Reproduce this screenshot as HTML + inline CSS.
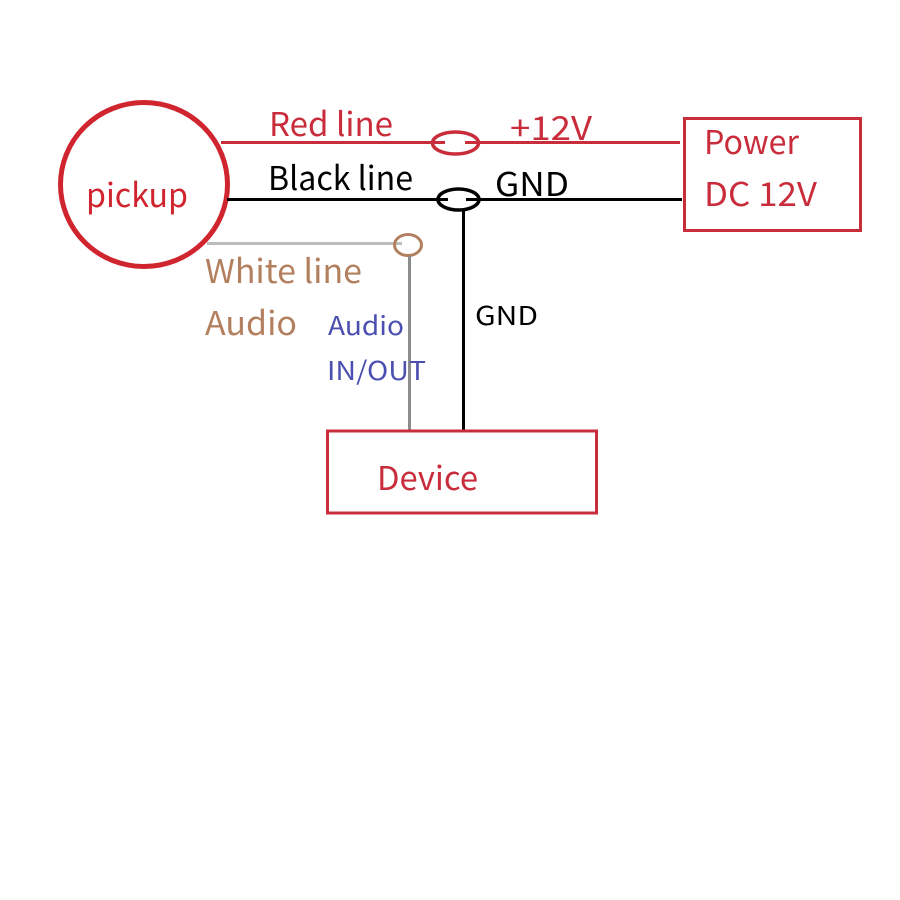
<!DOCTYPE html>
<html>
<head>
<meta charset="utf-8">
<style>
html,body{margin:0;padding:0;background:#fff;width:900px;height:900px;overflow:hidden}
svg{display:block}
text{font-family:"Noto Sans CJK SC","DejaVu Sans","Liberation Sans",sans-serif}
</style>
</head>
<body>
<svg width="900" height="900" viewBox="0 0 900 900" xmlns="http://www.w3.org/2000/svg">
<rect width="900" height="900" fill="#fff"/>
<!-- pickup circle -->
<ellipse cx="144" cy="184.500" rx="83.500" ry="82" fill="none" stroke="#d0252f" stroke-width="5"/>
<!-- red line with crossover -->
<line x1="221" y1="142.500" x2="445" y2="142.500" stroke="#c92d3c" stroke-width="3"/>
<line x1="465" y1="142.500" x2="680" y2="142.500" stroke="#c92d3c" stroke-width="3"/>
<ellipse cx="455.500" cy="143" rx="23" ry="11" fill="none" stroke="#c92d3c" stroke-width="3.500"/>
<!-- black line with crossover -->
<line x1="227" y1="199.500" x2="448" y2="199.500" stroke="#000" stroke-width="3"/>
<line x1="466" y1="199.500" x2="682" y2="199.500" stroke="#000" stroke-width="3"/>
<ellipse cx="458.500" cy="199.500" rx="20.500" ry="10.500" fill="none" stroke="#000" stroke-width="3.500"/>
<line x1="463.500" y1="210" x2="463.500" y2="431" stroke="#000" stroke-width="3"/>
<!-- white / audio line -->
<line x1="207" y1="243.500" x2="402" y2="243.500" stroke="#bdbdbd" stroke-width="3"/>
<ellipse cx="408" cy="245" rx="13.500" ry="10.500" fill="none" stroke="#b3805f" stroke-width="3"/>
<line x1="409.500" y1="256" x2="409.500" y2="431" stroke="#8c8c8c" stroke-width="3"/>
<!-- boxes -->
<rect x="684.500" y="118.500" width="176" height="112" fill="none" stroke="#c92d3c" stroke-width="3"/>
<rect x="327.500" y="431" width="269" height="82" fill="none" stroke="#c92d3c" stroke-width="3"/>
<!-- labels -->
<text x="86" y="207" font-size="33" fill="#d0252f" textLength="102" lengthAdjust="spacingAndGlyphs">pickup</text>
<text x="269" y="136" font-size="33" fill="#c92d3c" textLength="124" lengthAdjust="spacingAndGlyphs">Red line</text>
<text x="510" y="140" font-size="33" fill="#c92d3c" textLength="82" lengthAdjust="spacingAndGlyphs">+12V</text>
<text x="268" y="190" font-size="33" fill="#000" textLength="145" lengthAdjust="spacingAndGlyphs">Black line</text>
<text x="495" y="196" font-size="33" fill="#000" textLength="74" lengthAdjust="spacingAndGlyphs">GND</text>
<text x="704" y="154" font-size="33" fill="#c92d3c" textLength="95" lengthAdjust="spacingAndGlyphs">Power</text>
<text x="704" y="206" font-size="33" fill="#c92d3c" textLength="113" lengthAdjust="spacingAndGlyphs">DC 12V</text>
<text x="205" y="283" font-size="33" fill="#b3805f" textLength="157" lengthAdjust="spacingAndGlyphs">White line</text>
<text x="205" y="335" font-size="33" fill="#b3805f" textLength="92" lengthAdjust="spacingAndGlyphs">Audio</text>
<text x="328" y="335" font-size="26" fill="#4a4fb0" textLength="76" lengthAdjust="spacingAndGlyphs">Audio</text>
<text x="327" y="380" font-size="26" fill="#4a4fb0" textLength="99" lengthAdjust="spacingAndGlyphs">IN/OUT</text>
<text x="475" y="325" font-size="26" fill="#000" textLength="63" lengthAdjust="spacingAndGlyphs">GND</text>
<text x="377" y="490" font-size="33" fill="#c92d3c" textLength="101" lengthAdjust="spacingAndGlyphs">Device</text>
</svg>
</body>
</html>
